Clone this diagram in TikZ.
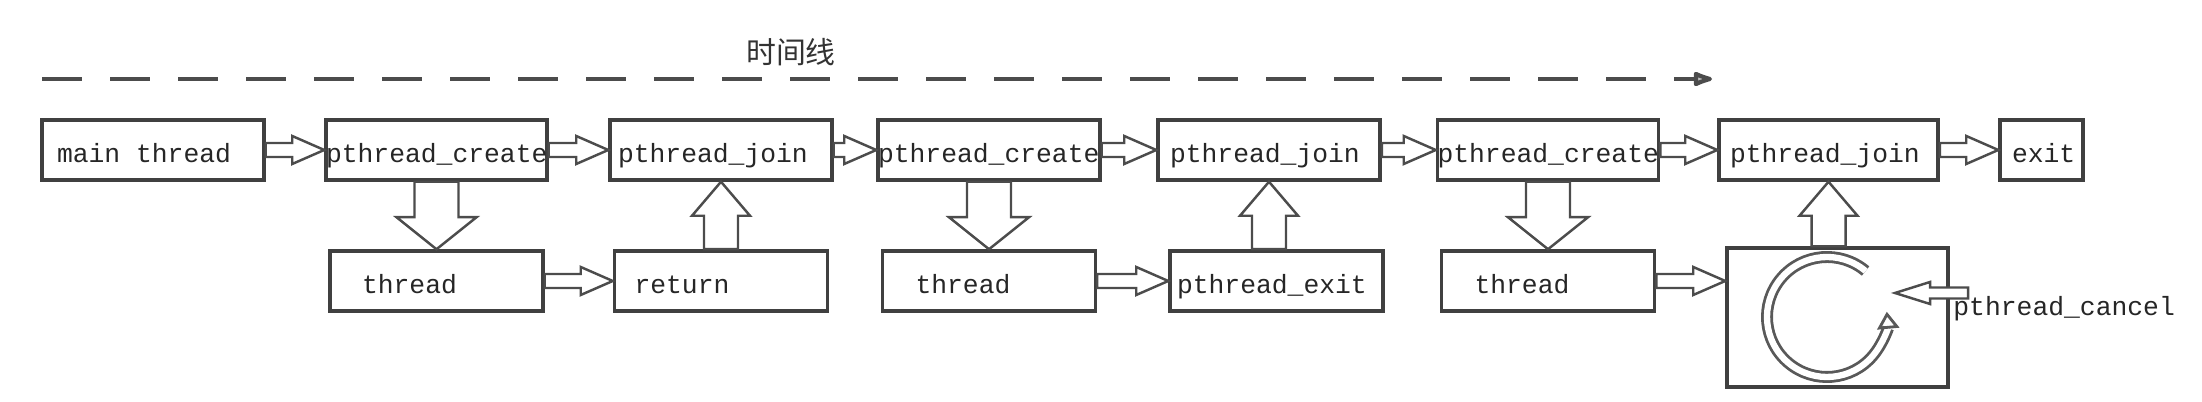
\documentclass[tikz,border=0pt]{standalone}
\usepackage{fontspec}
\setmonofont{Liberation Mono}
\newfontfamily\cjk{Noto Sans CJK SC}
\usepackage{tikz}
\usetikzlibrary{arrows.meta}
\usetikzlibrary{calc}

\begin{document}
\begin{tikzpicture}[thick,
    box node/.style={draw=black!75, line width=1pt, fill=white, text width=#1, align=flush left, minimum height=0.6cm, text height=0.40cm, text depth=0.15cm, inner sep=0pt, font=\ttfamily\fontsize{7.5}{9}\selectfont, text=black!85},
    box node/.default=2.22cm,
    flow/.style n args={3}{draw=black!70, line width=0.7pt, fill=white, to path={
        let \p1=(\tikztostart), \p2=(\tikztotarget),
            \n1={veclen(\x2-\x1,\y2-\y1)}, \n2={atan2(\y2-\y1,\x2-\x1)} in
        {[shift={(\p1)}, rotate=\n2]
          (0,-#1) -- (\n1-#3,-#1) -- (\n1-#3,-#2) -- (\n1,0)
          -- (\n1-#3,#2) -- (\n1-#3,#1) -- (0,#1) -- cycle}}},
    flow side/.style={flow={0.07cm}{0.14cm}{0.32cm}},
    flow down/.style={flow={0.22cm}{0.40cm}{0.32cm}},
    flow up/.style={flow={0.17cm}{0.29cm}{0.34cm}}]
      \useasboundingbox (0,0) rectangle (22.02,4.02);

      % time line
      \coordinate (t0) at (0.42,3.23);
      \coordinate (t1) at (17.12,3.23);
      \draw[black!70, line width=1.2pt, dash pattern=on 0.4cm off 0.28cm, -{Latex[length=0.26cm,width=0.17cm,round,fill=black!25]}] (t0) -- (t1);
      \node[font=\cjk\fontsize{8.5}{10}\selectfont, text=black!80] (tl) at (7.91,3.50) {时间线};

      \foreach \name/\x/\w/\p/\txt in {main/1.53/2.22cm/0.15cm/main thread, create1/4.365/2.21cm/0cm/pthread\_create,
          join1/7.21/2.22cm/0.08cm/pthread\_join, create2/9.89/2.22cm/0cm/pthread\_create,
          join2/12.69/2.22cm/0.12cm/pthread\_join, create3/15.48/2.21cm/0cm/pthread\_create,
          join3/18.285/2.19cm/0.11cm/pthread\_join, exit/20.415/0.83cm/0.12cm/exit}
        \node [box node=\w] (\name) at (\x,2.52) {\hspace*{\p}\txt};

      \foreach \name/\x/\p/\txt in {thread1/4.365/0.32cm/thread, ret/7.21/0.20cm/return, thread2/9.89/0.33cm/thread,
          pexit/12.765/0.07cm/pthread\_exit, thread3/15.48/0.33cm/thread}
        \node [box node=2.13cm] (\name) at (\x,1.21) {\hspace*{\p}\txt};

      \node [box node=2.21cm, minimum height=1.39cm] (cancel) at (18.375,0.845) {};

      \foreach \a/\b in {main/create1, create1/join1, join1/create2, create2/join2,
          join2/create3, create3/join3, join3/exit, thread1/ret, thread2/pexit}
        \draw[flow side] (\a.east) to (\b.west);
      \draw[flow side] (thread3.east) to (thread3.east -| cancel.west);

      \foreach \a/\b in {create1/thread1, create2/thread2, create3/thread3}
        \draw[flow down] (\a.south) to (\b.north);
      \draw[flow up] (ret.north) to (join1.south);
      \draw[flow up] (pexit.north -| join2.south) to (join2.south);
      \draw[flow up] (cancel.north -| join3.south) to (join3.south);

      % loop inside the cancel box
      \coordinate (hub) at (18.27,0.85);
      \draw[black!65, line width=0.8pt, double=white, double distance=1.8pt, -{Triangle[open,length=0.17cm,width=0.22cm]}]
        ([shift={(50:0.6)}]hub) arc[start angle=50, end angle=365, radius=0.6cm];
      \coordinate (spin) at ([shift={(0.68,0.24)}]hub);

      \node[anchor=base west, inner sep=0pt, font=\ttfamily\fontsize{7.5}{9}\selectfont, text=black!85] (pcancel) at (19.52,0.86) {pthread\_cancel};
      \coordinate (pull) at ([xshift=0.16cm]pcancel.north west |- spin);
      \draw[flow={0.055cm}{0.11cm}{0.35cm}] (pull) to (spin);
    \end{tikzpicture}
\end{document}
